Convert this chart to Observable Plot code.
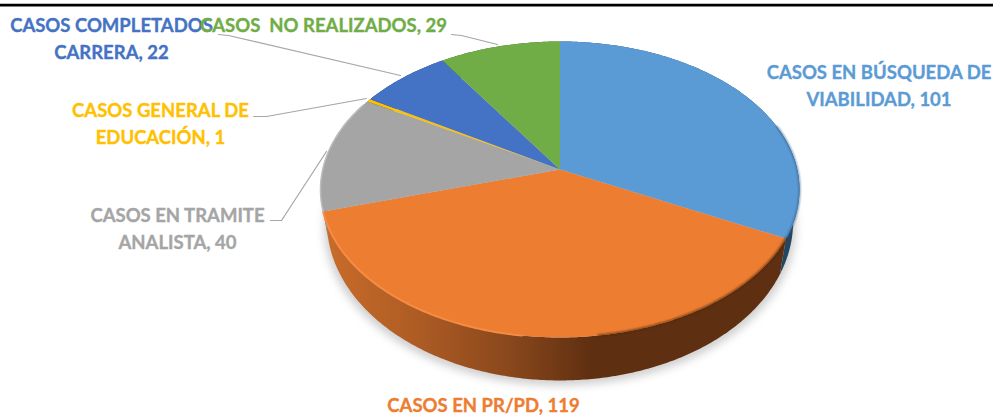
<!DOCTYPE html>
<html>
<head>
<meta charset="utf-8">
<script src="https://cdn.jsdelivr.net/npm/d3@7"></script>
<script src="https://cdn.jsdelivr.net/npm/@observablehq/plot@0.6"></script>
<style>html,body{margin:0;padding:0;background:#fff}svg{display:block}</style>
</head>
<body>
<div id="chart"></div>
<script>
// ---- data ----
const categories = ["CASOS EN BÚSQUEDA DE\nVIABILIDAD", "CASOS EN PR/PD", "CASOS EN TRAMITE\nANALISTA", "CASOS GENERAL DE\nEDUCACIÓN", "CASOS COMPLETADOS\nCARRERA", "CASOS\u00A0 NO REALIZADOS"];
const values = [101, 119, 40, 1, 22, 29];
const colors = ["#5B9BD5", "#ED7D31", "#A5A5A5", "#FFC000", "#4472C4", "#70AD47"];
const wallColors = ["#234763", "url(#orangeWall)", "#8d8d8d", "#8a6800", "#29446f", "#3f6328"];

// ---- layout (not data) ----
const W = 993, H = 415;
const labelAnchors = [[878.5, 83.5], [483, 402.5], [177, 226.5], [160, 121.5], [111, 36.5], [323, 23]];
const leaderBends = [null, null, [[270, 220], [281, 220], [326, 151]], [[253, 116], [266, 116], [366, 98]], [[218, 34], [228, 35], [400, 75]], [[451, 34], [461, 35], [497, 44]]];
const topDisc = {cx: 559.5, cy: 169, a: 237.3, b: 145.3, k: 0.135};
const lowDisc = {cx: 559.5, cy: 199.6, a: 231, b: 156, k: 0.135};

const project = (d, t) => {
  const u = Math.sin(t), v = Math.cos(t), w = 1 + d.k * v;
  return {x: d.cx + d.a * u / w, y: d.cy - d.b * v / w};
};
const arc = (d, t0, t1) => {
  const n = Math.max(2, Math.ceil((t1 - t0) / 0.01));
  return d3.range(n + 1).map(i => project(d, t0 + (t1 - t0) * i / n));
};
const slices = d3.pie().sort(null)(values);
const face = s => [{x: topDisc.cx, y: topDisc.cy}, ...arc(topDisc, s.startAngle, s.endAngle)];
const wall = s => [...arc(topDisc, s.startAngle, s.endAngle), ...arc(lowDisc, s.startAngle, s.endAngle).reverse()];
const fullLow = arc(lowDisc, 0, 2 * Math.PI);
const deg = x => x * Math.PI / 180;

const defs = () => {
  const g = d3.create("svg:defs");
  const lg = g.append("linearGradient").attr("id", "orangeWall").attr("x1", 0).attr("x2", 1).attr("y1", 0).attr("y2", 0);
  [[0, "#C96C2A"], [0.2, "#AE5C24"], [0.4, "#8A481C"], [0.58, "#5F2F11"], [1, "#5F2F11"]]
    .forEach(([o, c]) => lg.append("stop").attr("offset", o).attr("stop-color", c));
  return g.node();
};

const area = (pts, o) => Plot.line(pts, {x: "x", y: "y", strokeWidth: 0, stroke: "none", ...o});

const marks = [
  defs,
  area(fullLow.map(p => ({x: p.x + (p.x - lowDisc.cx) * 0.012, y: p.y + 5})), {fill: "#cfcfcf", imageFilter: "blur(4px)"}),
  ...slices.map((s, i) => area(wall(s), {fill: wallColors[i]})),
  ...slices.map((s, i) => area(face(s), {fill: colors[i]})),
  // soft bevel along the rim of the top disc
  Plot.line(arc(topDisc, deg(72), deg(116.5)), {x: "x", y: "y", stroke: "#2f5f8a", strokeWidth: 1.3, imageFilter: "blur(0.8px)"}),
  Plot.line(arc(topDisc, slices[1].startAngle, deg(172)), {x: "x", y: "y", stroke: "#4f2608", strokeWidth: 1.5, imageFilter: "blur(0.8px)"}),
  Plot.line(arc(topDisc, deg(188), slices[1].endAngle), {x: "x", y: "y", stroke: "#F58C45", strokeWidth: 2, imageFilter: "blur(0.5px)"}),
  Plot.line(arc(topDisc, slices[2].startAngle, deg(298)), {x: "x", y: "y", stroke: "#bdbdbd", strokeWidth: 1.5}),
  // leader lines
  ...leaderBends.filter(Boolean).map(b => Plot.line(b.map(([x, y]) => ({x, y})), {x: "x", y: "y", stroke: "#A6A6A6", strokeWidth: 1.2})),
  // top border rule
  Plot.ruleY([4.7], {stroke: "#000", strokeWidth: 2.8}),
  // labels
  ...slices.map((s, i) => Plot.text([`${categories[i]}, ${values[i]}`], {
    x: labelAnchors[i][0], y: labelAnchors[i][1], text: d => d,
    fill: colors[i], stroke: colors[i], strokeWidth: 0.35,
    fontFamily: "Lato", fontWeight: 700, fontSize: 18.5, lineHeight: 1.46, textAnchor: "middle"
  }))
];

document.getElementById("chart").append(Plot.plot({
  width: W, height: H, margin: 0,
  x: {domain: [0, W], range: [0, W], axis: null},
  y: {domain: [0, H], range: [0, H], axis: null},
  marks
}));
</script>
</body>
</html>
